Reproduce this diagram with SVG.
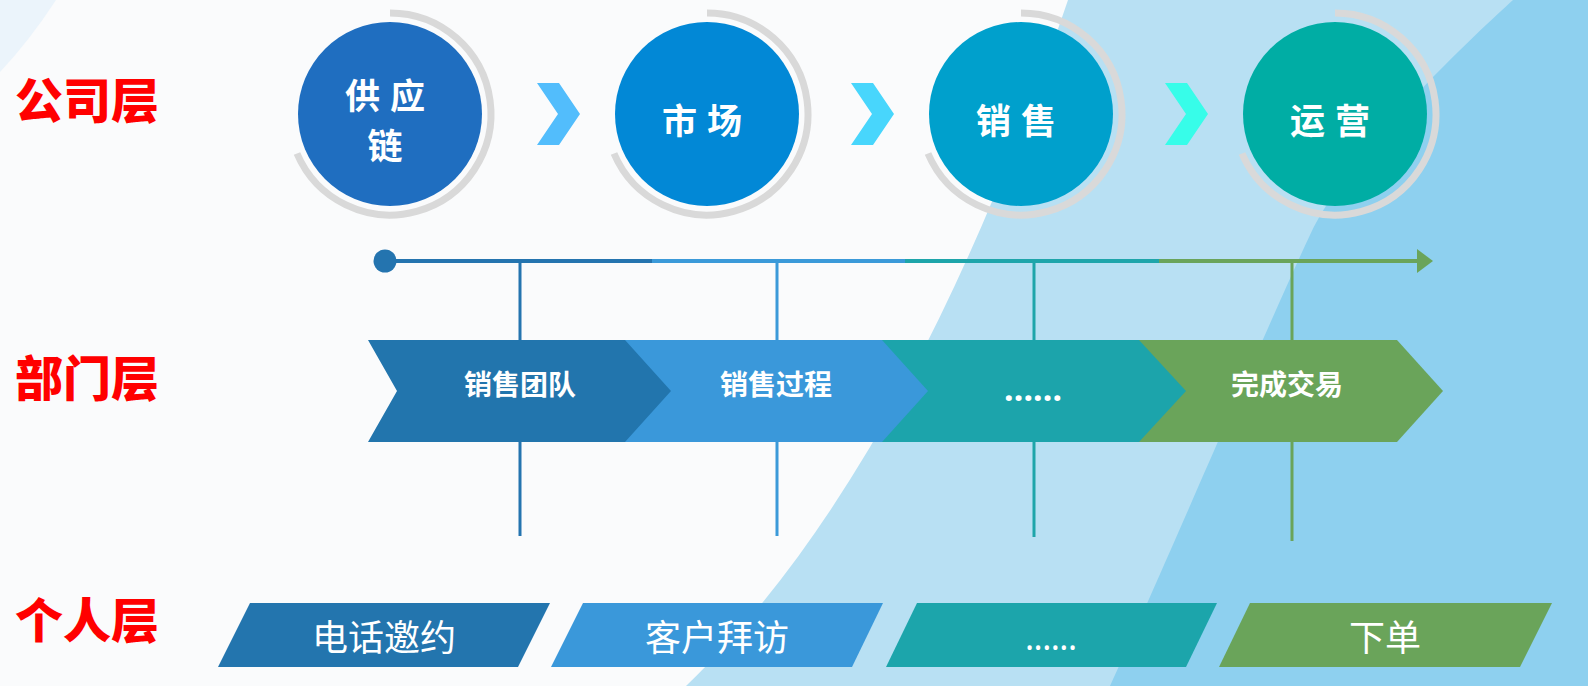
<svg xmlns="http://www.w3.org/2000/svg" width="1588" height="686" viewBox="0 0 1588 686">
<defs>
<style>
.lbl{font-family:"Noto Sans CJK SC","Noto Sans CJK TC",sans-serif;font-weight:900;font-size:48px;fill:#ff0000;dominant-baseline:central}
.ctxt{font-family:"Noto Sans CJK SC",sans-serif;font-weight:700;font-size:35px;fill:#ffffff;text-anchor:middle;dominant-baseline:central;letter-spacing:10px}
.dtxt{font-family:"Noto Sans CJK SC",sans-serif;font-weight:700;font-size:28px;fill:#ffffff;text-anchor:middle;dominant-baseline:central}
.ptxt{font-family:"Noto Sans CJK SC",sans-serif;font-weight:400;font-size:36px;fill:#ffffff;text-anchor:middle;dominant-baseline:central}
.arc{fill:none;stroke:#d9d9d9;stroke-width:7}
.chev{stroke:none}
</style>
<marker id="ah" viewBox="0 0 16 24" refX="0" refY="12" markerWidth="16" markerHeight="24" markerUnits="userSpaceOnUse" orient="auto">
<path d="M0,0 L16,12 L0,24 Z" fill="#6aa45a"/>
</marker>
</defs>
<rect width="1588" height="686" fill="#fafbfc"/>
<path d="M0,0 H56 Q30,40 0,72 Z" fill="#ebf4fb"/>
<path d="M1068,0 C1000,200 880,500 686,686 L1588,686 L1588,0 Z" fill="#b8e0f3"/>
<path d="M1513,0 C1480,30 1350,150 1310,235 C1270,320 1150,600 1110,686 L1588,686 L1588,0 Z" fill="#8ed0ef"/>

<text class="lbl" x="15" y="97">公司层</text>
<text class="lbl" x="15" y="375">部门层</text>
<text class="lbl" x="15" y="617">个人层</text>

<g id="connectors">
<path d="M537,83 H559 L580,114 L559,145 H537 L558,114 Z" fill="#52bdfc"/>
<path d="M851,83 H873 L894,114 L873,145 H851 L872,114 Z" fill="#48d6fc"/>
<path d="M1165,83 H1187 L1208,114 L1187,145 H1165 L1186,114 Z" fill="#37fde9"/>
<line x1="385" y1="261" x2="652" y2="261" stroke="#2474af" stroke-width="4"/>
<line x1="652" y1="261" x2="905" y2="261" stroke="#3b9ad9" stroke-width="4"/>
<line x1="905" y1="261" x2="1159" y2="261" stroke="#1ea5aa" stroke-width="4"/>
<line x1="1159" y1="261" x2="1417" y2="261" stroke="#6aa45a" stroke-width="4" marker-end="url(#ah)"/>
<circle cx="385" cy="261" r="11.5" fill="#2474af"/>
<line x1="520" y1="261" x2="520" y2="536" stroke="#2474af" stroke-width="3"/>
<line x1="777" y1="261" x2="777" y2="536" stroke="#3b9ad9" stroke-width="3"/>
<line x1="1034" y1="261" x2="1034" y2="537" stroke="#1ea5aa" stroke-width="3"/>
<line x1="1292" y1="261" x2="1292" y2="541" stroke="#6aa45a" stroke-width="3"/>
</g>

<g id="node-supply">
<path class="arc" d="M390,13 A101,101 0 1 1 297,153.5"/>
<circle cx="390" cy="114" r="92" fill="#1f6ec0"/>
<text class="ctxt" x="390" y="93.5">供应</text>
<text class="ctxt" x="390" y="143.5">链</text>
</g>
<g id="node-market">
<path class="arc" d="M707,13 A101,101 0 1 1 614,153.5"/>
<circle cx="707" cy="114" r="92" fill="#0288d6"/>
<text class="ctxt" x="707" y="118">市场</text>
</g>
<g id="node-sales">
<path class="arc" d="M1021,13 A101,101 0 1 1 928,153.5"/>
<circle cx="1021" cy="114" r="92" fill="#00a0cc"/>
<text class="ctxt" x="1021" y="118">销售</text>
</g>
<g id="node-ops">
<path class="arc" d="M1335,13 A101,101 0 1 1 1242,153.5"/>
<circle cx="1335" cy="114" r="92" fill="#00ada4"/>
<text class="ctxt" x="1335" y="118">运营</text>
</g>

<g id="dept-deal">
<path class="chev" d="M1139,340 H1397 L1443,391 L1397,442 H1139 Z" fill="#6aa45a"/>
<text class="dtxt" x="1287" y="383">完成交易</text>
</g>
<g id="dept-more">
<path class="chev" d="M882,340 H1139 L1186,391 L1139,442 H882 Z" fill="#1ca4ab"/>
<text x="1033" y="401" textLength="58" lengthAdjust="spacing" style="font-family:'Noto Sans',sans-serif;font-weight:700;font-size:34px;fill:#ffffff;text-anchor:middle">......</text>
</g>
<g id="dept-process">
<path class="chev" d="M625,340 H882 L928,391 L882,442 H625 Z" fill="#3a98da"/>
<text class="dtxt" x="776" y="383">销售过程</text>
</g>
<g id="dept-team">
<path class="chev" d="M368,340 H625 L671,391 L625,442 H368 L397,391 Z" fill="#2275ad"/>
<text class="dtxt" x="520" y="383">销售团队</text>
</g>

<g id="ind-call">
<path d="M250,603 H550 L518,667 H218 Z" fill="#2375ae"/>
<text class="ptxt" x="384" y="635">电话邀约</text>
</g>
<g id="ind-visit">
<path d="M583,603 H883 L852,667 H551 Z" fill="#3a98da"/>
<text class="ptxt" x="717" y="635">客户拜访</text>
</g>
<g id="ind-more">
<path d="M917,603 H1217 L1186,667 H886 Z" fill="#1ca5ab"/>
<text x="1051" y="650" textLength="52" lengthAdjust="spacing" style="font-family:'Noto Sans',sans-serif;font-weight:400;font-size:34px;fill:#ffffff;text-anchor:middle">......</text>
</g>
<g id="ind-order">
<path d="M1250,603 H1552 L1520,667 H1219 Z" fill="#6aa45a"/>
<text class="ptxt" x="1385" y="635">下单</text>
</g>
</svg>
